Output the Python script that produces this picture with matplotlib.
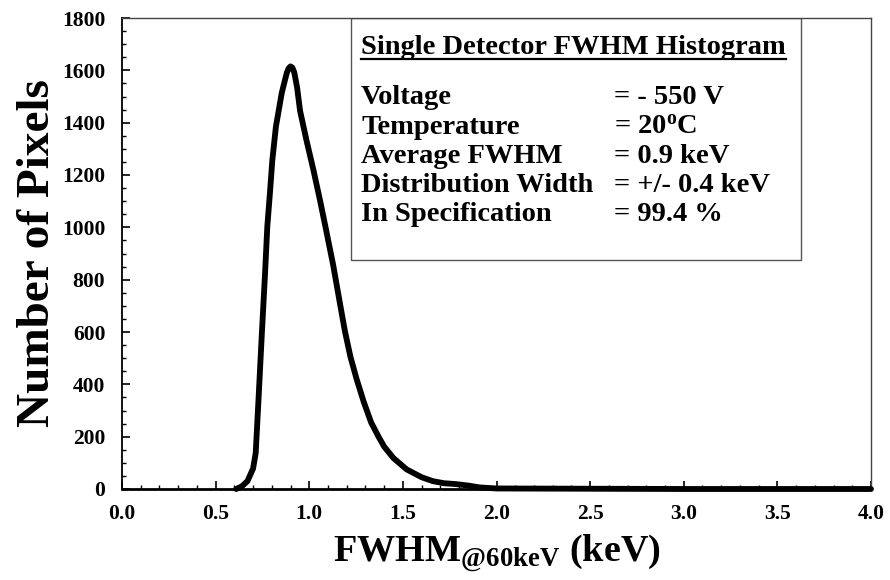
import matplotlib
matplotlib.use("Agg")
import matplotlib.pyplot as plt
from matplotlib.ticker import MultipleLocator
from matplotlib.patches import Rectangle

fwhm_kev = [0.61, 0.64, 0.67, 0.70, 0.714, 0.728, 0.746, 0.764, 0.776, 0.790, 0.803,
            0.822, 0.853, 0.87, 0.88, 0.89, 0.90, 0.91, 0.92, 0.935, 0.951, 0.986,
            1.022, 1.057, 1.09, 1.128, 1.16, 1.19, 1.22, 1.253, 1.29, 1.33, 1.37,
            1.40, 1.45, 1.52, 1.60, 1.66, 1.72, 1.78, 1.85, 1.91, 2.0, 2.5, 3.0, 3.5, 4.0]
pixel_counts = [0, 10, 30, 78, 137, 328, 582, 825, 1003, 1131, 1258,
                1385, 1513, 1562, 1590, 1608, 1615, 1610, 1592, 1535, 1445, 1330,
                1220, 1105, 990, 855, 725, 605, 505, 420, 335, 255, 200,
                162, 118, 75, 45, 30, 22, 19, 13, 6, 2, 1, 0, 0, 0]

x_ticks = [0.0, 0.5, 1.0, 1.5, 2.0, 2.5, 3.0, 3.5, 4.0]
y_ticks = [0, 200, 400, 600, 800, 1000, 1200, 1400, 1600, 1800]

box_title = "Single Detector FWHM Histogram"
box_labels = ["Voltage", "Temperature", "Average FWHM", "Distribution Width", "In Specification"]
box_values = ["= - 550 V", "= 20$^{\\mathbf{o}}$C", "= 0.9 keV", "= +/- 0.4 keV", "= 99.4 %"]

plt.rcParams['font.family'] = ['Liberation Serif', 'DejaVu Serif']
plt.rcParams['font.weight'] = 'bold'
plt.rcParams['mathtext.fontset'] = 'custom'
plt.rcParams['mathtext.rm'] = 'Liberation Serif:bold'
plt.rcParams['mathtext.bf'] = 'Liberation Serif:bold'
plt.rcParams['mathtext.it'] = 'Liberation Serif:bold'
plt.rcParams['mathtext.default'] = 'bf'

fig = plt.figure(figsize=(8.9, 5.8), dpi=100)
ax = fig.add_axes([122/890, 1 - 489/580, (871-122)/890, (489-18)/580])

ax.plot(fwhm_kev, pixel_counts, color='black', lw=4.2, solid_joinstyle='round',
        solid_capstyle='round', clip_on=False, zorder=3)

ax.set_xlim(0, 4.0)
ax.set_ylim(0, 1800)
ax.set_xticks(x_ticks)
ax.set_yticks(y_ticks)
ax.set_xticklabels([f"{v:.1f}" for v in x_ticks])
ax.set_yticklabels([str(v) for v in y_ticks])
ax.xaxis.set_minor_locator(MultipleLocator(0.1))
ax.yaxis.set_minor_locator(MultipleLocator(50))
ax.tick_params(axis='both', which='both', direction='in', top=False, right=False)
ax.tick_params(axis='both', which='major', length=6, width=1.2, labelsize=15.5)
ax.tick_params(axis='both', which='minor', length=3, width=1.0)
ax.tick_params(axis='x', which='major', pad=11)
ax.tick_params(axis='y', which='major', pad=12)
for lab in ax.get_xticklabels() + ax.get_yticklabels():
    lab.set_fontweight('bold')

for s in ['top', 'right']:
    ax.spines[s].set_linewidth(1.0)
    ax.spines[s].set_color('#444444')
ax.spines['left'].set_linewidth(1.3)
ax.spines['bottom'].set_linewidth(2.0)

ax.set_ylabel("Number of Pixels", fontsize=34, fontweight='bold', labelpad=2)
ax.set_xlabel(r"FWHM$_{\mathbf{@60keV}}$ (keV)", fontsize=27.5, fontweight='bold', labelpad=6)

# info box
bx0, by0 = (351-122)/749*4.0, (489-260)/471*1800
rect = Rectangle((bx0, by0), (801-351)/749*4.0, 1800 - by0, transform=ax.transData,
                 fill=False, edgecolor='#555555', lw=1.0, zorder=2)
ax.add_patch(rect)

def px2data(px, py):
    return (px - 122) / 749 * 4.0, (489 - py) / 471 * 1800

tx, ty = px2data(361, 47)
t = ax.text(tx, ty, box_title, fontsize=20.5, fontweight='bold', ha='left', va='center', zorder=4)
fig.canvas.draw()
bb = t.get_window_extent()
inv = ax.transData.inverted()
(ux0, uy), (ux1, _) = inv.transform([[bb.x0, bb.y0 + 1], [bb.x1, bb.y0 + 1]])
ax.plot([ux0, ux1], [uy, uy], color='black', lw=1.6, zorder=4)

for i, (lab, val) in enumerate(zip(box_labels, box_values)):
    py = 98 + i * 29.2
    lx, ly = px2data(361, py)
    vx, _ = px2data(614, py)
    ax.text(lx, ly, lab, fontsize=20.5, fontweight='bold', ha='left', va='center', zorder=4)
    ax.text(vx, ly, val, fontsize=20.5, fontweight='bold', ha='left', va='center', zorder=4)

fig.savefig("out.png", dpi=100)
